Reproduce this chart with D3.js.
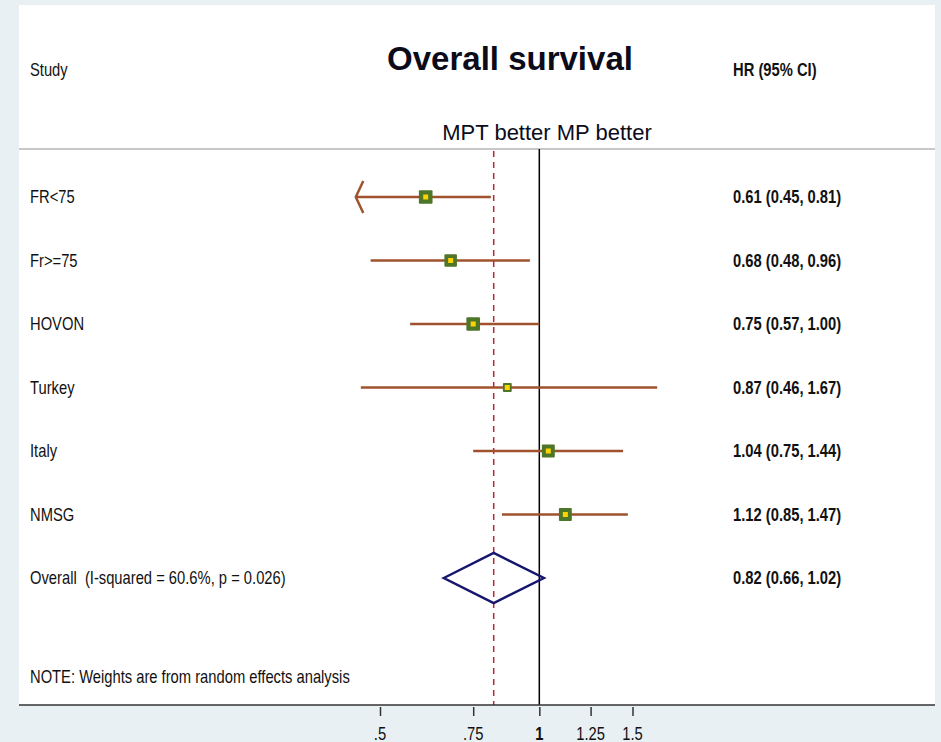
<!DOCTYPE html>
<html lang="en">
<head>
<meta charset="UTF-8">
<title>Overall survival</title>
<script src="https://d3js.org/d3.v7.min.js"></script>
<style>
  body { margin: 0; background: #e9f0f3; }
  svg { display: block; }
  text { font-family: "Liberation Sans", Arial, sans-serif; fill: #111; white-space: pre; }
</style>
</head>
<body>
<div id="chart"></div>
<script>
// study rows
const studies = ["FR<75", "Fr>=75", "HOVON", "Turkey", "Italy", "NMSG"];
const hr = [0.61, 0.68, 0.75, 0.87, 1.04, 1.12];
const lower = [0.45, 0.48, 0.57, 0.46, 0.75, 0.85];
const upper = [0.81, 0.96, 1.00, 1.67, 1.44, 1.47];
const weights = [19, 16, 19, 8, 17, 17]; // % weight, guessed from box size
// pooled estimate
const overallLabel = "Overall  (I-squared = 60.6%, p = 0.026)";
const overallHR = 0.82, overallLower = 0.66, overallUpper = 1.02;
// axis
const tickValues = [0.5, 0.75, 1, 1.25, 1.5];
const tickLabels = [".5", ".75", "1", "1.25", "1.5"];
const axisMin = 0.46; // CIs below this get an arrow

const W = 941, H = 742;
const panel = {left: 19, right: 935, top: 5, bottom: 705};
const squeeze = 0.82; // narrow font look

const svg = d3.select("#chart").append("svg")
    .attr("width", W).attr("height", H);

svg.append("rect")
    .attr("x", panel.left).attr("y", panel.top)
    .attr("width", panel.right - panel.left)
    .attr("height", panel.bottom - panel.top)
    .attr("fill", "#fff");

const x = d3.scaleLog().domain([0.5, 1.5]).range([380, 632.5]);
const y = d3.scaleLinear().domain([0, 6]).range([197, 578]);

function label(px, py, txt, anchor, bold) {
    return svg.append("text")
        .attr("transform", `translate(${px},${py}) scale(${squeeze},1)`)
        .attr("text-anchor", anchor || "start")
        .attr("font-size", 18)
        .attr("font-weight", bold ? "bold" : "normal")
        .text(txt);
}

const fmt = d3.format(".2f");

// header
svg.append("text")
    .attr("x", 510).attr("y", 70)
    .attr("text-anchor", "middle")
    .attr("font-size", 33).attr("font-weight", "bold")
    .style("fill", "#0b0b1a")
    .text("Overall survival");
svg.append("text")
    .attr("x", 547).attr("y", 140)
    .attr("text-anchor", "middle")
    .attr("font-size", 22)
    .style("fill", "#0b0b1a")
    .text("MPT better MP better");
label(30, 76, "Study");
label(733, 76, "HR (95% CI)", "start", true);

svg.append("line")
    .attr("x1", panel.left).attr("x2", panel.right)
    .attr("y1", 149).attr("y2", 149)
    .attr("stroke", "#c8c8c8").attr("stroke-width", 2);

// reference lines
svg.append("line")
    .attr("x1", x(1)).attr("x2", x(1))
    .attr("y1", 149).attr("y2", panel.bottom)
    .attr("stroke", "#000").attr("stroke-width", 1.5);
svg.append("line")
    .attr("x1", x(overallHR)).attr("x2", x(overallHR))
    .attr("y1", 151).attr("y2", panel.bottom)
    .attr("stroke", "#b22a36").attr("stroke-width", 1.5)
    .attr("stroke-dasharray", "6,5");

// CI lines
const rows = studies.map((s, i) => ({name: s, hr: hr[i], lo: lower[i], hi: upper[i], w: weights[i], i}));

svg.selectAll(".ci").data(rows).enter().append("path")
    .attr("class", "ci")
    .attr("fill", "none")
    .attr("stroke", "#a0522d")
    .attr("stroke-width", 2.5)
    .attr("d", d => {
        const yy = y(d.i), x0 = x(d.lo), x1 = x(d.hi);
        let p = `M${x0},${yy}H${x1}`;
        if (d.lo < axisMin) p += `M${x0 + 7.5},${yy - 16}L${x0},${yy}L${x0 + 7.5},${yy + 16}`;
        return p;
    });

// weight boxes
const boxSize = d3.scaleSqrt().domain([0, 20]).range([0, 14]);
svg.selectAll(".box").data(rows).enter().append("rect")
    .attr("class", "box")
    .attr("x", d => x(d.hr) - boxSize(d.w) / 2)
    .attr("y", d => y(d.i) - boxSize(d.w) / 2)
    .attr("width", d => boxSize(d.w))
    .attr("height", d => boxSize(d.w))
    .attr("rx", 1)
    .attr("fill", "#4e7628");
svg.selectAll(".dot").data(rows).enter().append("rect")
    .attr("class", "dot")
    .attr("x", d => x(d.hr) - 2.5)
    .attr("y", d => y(d.i) - 2.5)
    .attr("width", 5).attr("height", 5)
    .attr("fill", "#ffd200");

// pooled diamond
const yo = y(6);
svg.append("path")
    .attr("d", `M${x(overallLower)},${yo}L${x(overallHR)},${yo - 25}L${x(overallUpper)},${yo}L${x(overallHR)},${yo + 25}Z`)
    .attr("fill", "none")
    .attr("stroke", "#16166e")
    .attr("stroke-width", 2.5);

// row labels
rows.forEach(d => {
    label(30, y(d.i), d.name).attr("dy", "0.35em");
    label(733, y(d.i), `${fmt(d.hr)} (${fmt(d.lo)}, ${fmt(d.hi)})`, "start", true).attr("dy", "0.35em");
});
label(30, yo, overallLabel).attr("dy", "0.35em");
label(733, yo, `${fmt(overallHR)} (${fmt(overallLower)}, ${fmt(overallUpper)})`, "start", true).attr("dy", "0.35em");
label(30, y(7.55), "NOTE: Weights are from random effects analysis").attr("dy", "0.35em");

// x axis
svg.append("line")
    .attr("x1", panel.left).attr("x2", panel.right)
    .attr("y1", panel.bottom).attr("y2", panel.bottom)
    .attr("stroke", "#333").attr("stroke-width", 1.6);

const axis = svg.append("g")
    .attr("transform", `translate(0,${panel.bottom + 2})`)
    .call(d3.axisBottom(x).tickValues(tickValues).tickSize(9).tickPadding(5)
        .tickFormat((d, i) => tickLabels[i]));
axis.select(".domain").remove();
axis.selectAll(".tick line").attr("stroke", "#333").attr("stroke-width", 1.5);
axis.selectAll(".tick text").remove();
tickValues.forEach((v, i) => {
    label(x(v), 740, tickLabels[i], "middle", v === 1);
});
</script>
</body>
</html>
